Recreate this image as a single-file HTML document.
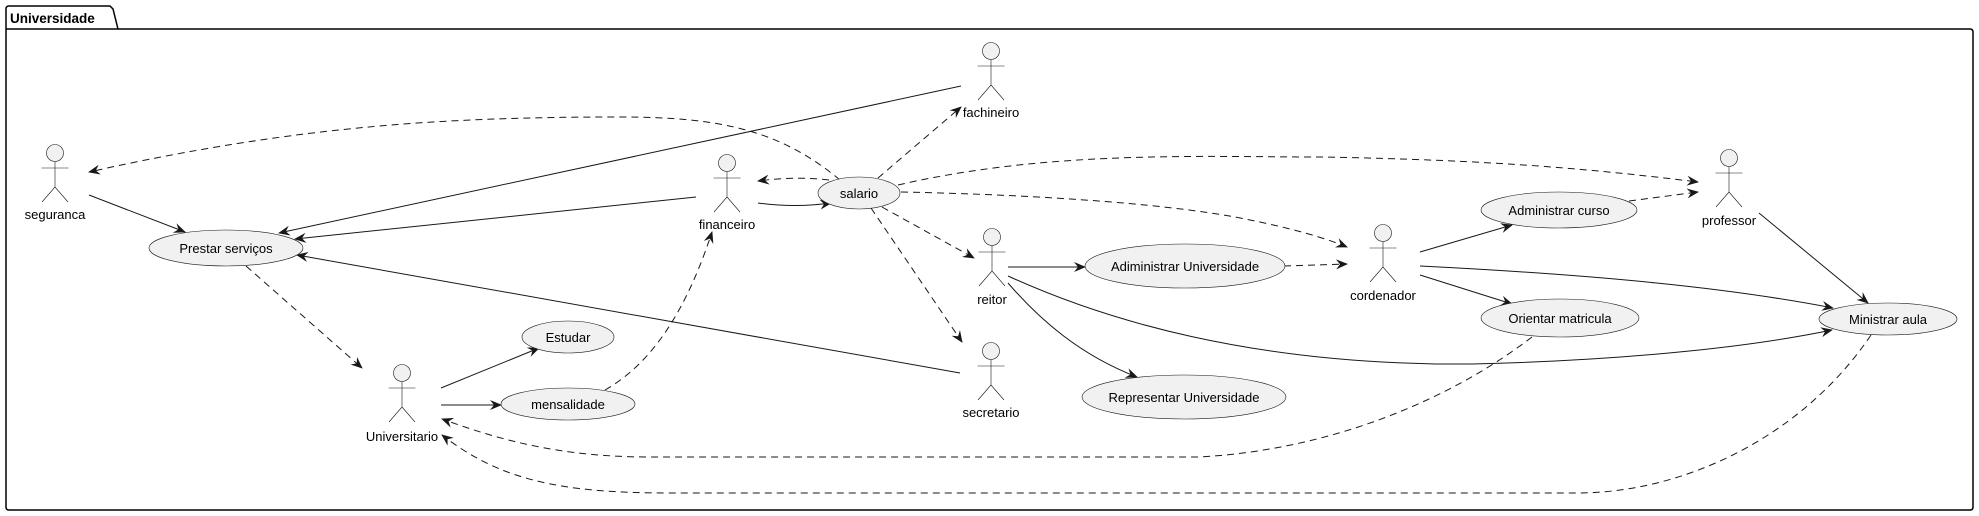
<!DOCTYPE html>
<html><head><meta charset="utf-8"><style>
html,body{margin:0;padding:0;background:#fff}
svg{display:block}
text{font-family:"Liberation Sans",Arial,sans-serif;font-size:13px;fill:#000}
</style></head><body>
<svg width="1979" height="516" viewBox="0 0 1979 516" xmlns="http://www.w3.org/2000/svg">
<defs>
<marker id="a" viewBox="0 0 12 10" refX="11" refY="5" markerWidth="12" markerHeight="10" markerUnits="userSpaceOnUse" orient="auto">
<path d="M0,0 L12,5 L0,10 L4,5 Z" fill="#181818"/>
</marker>
</defs>
<path d="M9,6 L110,6 L113,9 L118,29 L1970,29 Q1973,29 1973,32 L1973,507 Q1973,510 1970,510 L9,510 Q6,510 6,507 L6,9 Q6,6 9,6 Z" fill="none" stroke="#000" stroke-width="1.5"/>
<line x1="6" y1="29" x2="118" y2="29" stroke="#000" stroke-width="1.5"/>
<text x="10" y="23" style="font-weight:bold;font-size:13.5px">Universidade</text>

<g fill="none" stroke="#181818" stroke-width="1">
<path d="M89,195 L185,232" marker-end="url(#a)"/>
<path d="M961,86 L279,233" marker-end="url(#a)"/>
<path d="M696,197 L295,239" marker-end="url(#a)"/>
<path d="M960,373 L297,255" marker-end="url(#a)"/>
<path d="M441,388 L539,348" marker-end="url(#a)"/>
<path d="M441,405 L501,405" marker-end="url(#a)"/>
<path d="M758,203 Q795,208 831,203" marker-end="url(#a)"/>
<path d="M1008,267 L1085,267" marker-end="url(#a)"/>
<path d="M1008,276 C1100,318 1250,366 1473,364 C1640,360 1760,345 1832,330" marker-end="url(#a)"/>
<path d="M1008,283 C1040,320 1080,355 1137,377" marker-end="url(#a)"/>
<path d="M1420,252 L1512,225" marker-end="url(#a)"/>
<path d="M1420,266 C1600,275 1730,288 1833,308" marker-end="url(#a)"/>
<path d="M1420,275 L1512,304" marker-end="url(#a)"/>
<path d="M1759,213 L1868,303" marker-end="url(#a)"/>
</g>
<g fill="none" stroke="#181818" stroke-width="1" stroke-dasharray="7,5">
<path d="M246,266 L362,368" marker-end="url(#a)"/>
<path d="M605,390 C640,370 680,330 712,232" marker-end="url(#a)"/>
<path d="M840,180 C780,130 720,117 620,117 C450,117 300,125 89,172" marker-end="url(#a)"/>
<path d="M829,180 Q795,176 758,181" marker-end="url(#a)"/>
<path d="M878,178 L961,107" marker-end="url(#a)"/>
<path d="M898,185 C1050,150 1200,157 1320,157 C1500,160 1600,170 1698,182" marker-end="url(#a)"/>
<path d="M901,192 C1050,195 1180,205 1250,220 C1300,230 1330,240 1347,247" marker-end="url(#a)"/>
<path d="M882,207 L974,258" marker-end="url(#a)"/>
<path d="M871,208 L962,342" marker-end="url(#a)"/>
<path d="M1284,266 L1347,264" marker-end="url(#a)"/>
<path d="M1629,201 L1698,192" marker-end="url(#a)"/>
<path d="M1532,337 C1450,400 1330,450 1199,457 L650,457 C560,457 500,440 442,419" marker-end="url(#a)"/>
<path d="M1871,335 C1800,440 1680,493 1577,493 L670,493 C560,493 500,480 442,435" marker-end="url(#a)"/>
</g>

<g fill="#f1f1f1" stroke="#181818" stroke-width="0.6">
<ellipse cx="226" cy="248" rx="77" ry="18"/>
<ellipse cx="568" cy="337" rx="46" ry="16"/>
<ellipse cx="568" cy="404" rx="67" ry="16"/>
<ellipse cx="859" cy="193" rx="41" ry="16"/>
<ellipse cx="1185" cy="266" rx="100" ry="22"/>
<ellipse cx="1184" cy="397" rx="102" ry="22"/>
<ellipse cx="1559" cy="210" rx="78" ry="18"/>
<ellipse cx="1560" cy="318" rx="79" ry="19"/>
<ellipse cx="1888" cy="319" rx="69" ry="16"/>
</g>
<g text-anchor="middle">
<text x="226" y="253">Prestar serviços</text>
<text x="568" y="342">Estudar</text>
<text x="568" y="409">mensalidade</text>
<text x="859" y="198">salario</text>
<text x="1185" y="271">Adiministrar Universidade</text>
<text x="1184" y="402">Representar Universidade</text>
<text x="1559" y="215">Administrar curso</text>
<text x="1560" y="323">Orientar matricula</text>
<text x="1888" y="324">Ministrar aula</text>
</g>

<g fill="#f1f1f1" stroke="#181818" stroke-width="0.6">
<g transform="translate(55,153)"><circle r="8.5"/><path d="M0,8.5 V34 M-13.5,15 H13.5 M-13,49 L0,34 L13,49" fill="none"/></g>
<g transform="translate(402,373)"><circle r="8.5"/><path d="M0,8.5 V34 M-13.5,15 H13.5 M-13,49 L0,34 L13,49" fill="none"/></g>
<g transform="translate(991,51)"><circle r="8.5"/><path d="M0,8.5 V34 M-13.5,15 H13.5 M-13,49 L0,34 L13,49" fill="none"/></g>
<g transform="translate(727,163)"><circle r="8.5"/><path d="M0,8.5 V34 M-13.5,15 H13.5 M-13,49 L0,34 L13,49" fill="none"/></g>
<g transform="translate(992,237)"><circle r="8.5"/><path d="M0,8.5 V34 M-13.5,15 H13.5 M-13,49 L0,34 L13,49" fill="none"/></g>
<g transform="translate(991,351)"><circle r="8.5"/><path d="M0,8.5 V34 M-13.5,15 H13.5 M-13,49 L0,34 L13,49" fill="none"/></g>
<g transform="translate(1383,233)"><circle r="8.5"/><path d="M0,8.5 V34 M-13.5,15 H13.5 M-13,49 L0,34 L13,49" fill="none"/></g>
<g transform="translate(1729,158)"><circle r="8.5"/><path d="M0,8.5 V34 M-13.5,15 H13.5 M-13,49 L0,34 L13,49" fill="none"/></g>
</g>
<g text-anchor="middle">
<text x="55" y="219">seguranca</text>
<text x="402" y="441">Universitario</text>
<text x="991" y="117">fachineiro</text>
<text x="727" y="229">financeiro</text>
<text x="992" y="304">reitor</text>
<text x="991" y="417">secretario</text>
<text x="1383" y="300">cordenador</text>
<text x="1729" y="225">professor</text>
</g>
</svg>
</body></html>
